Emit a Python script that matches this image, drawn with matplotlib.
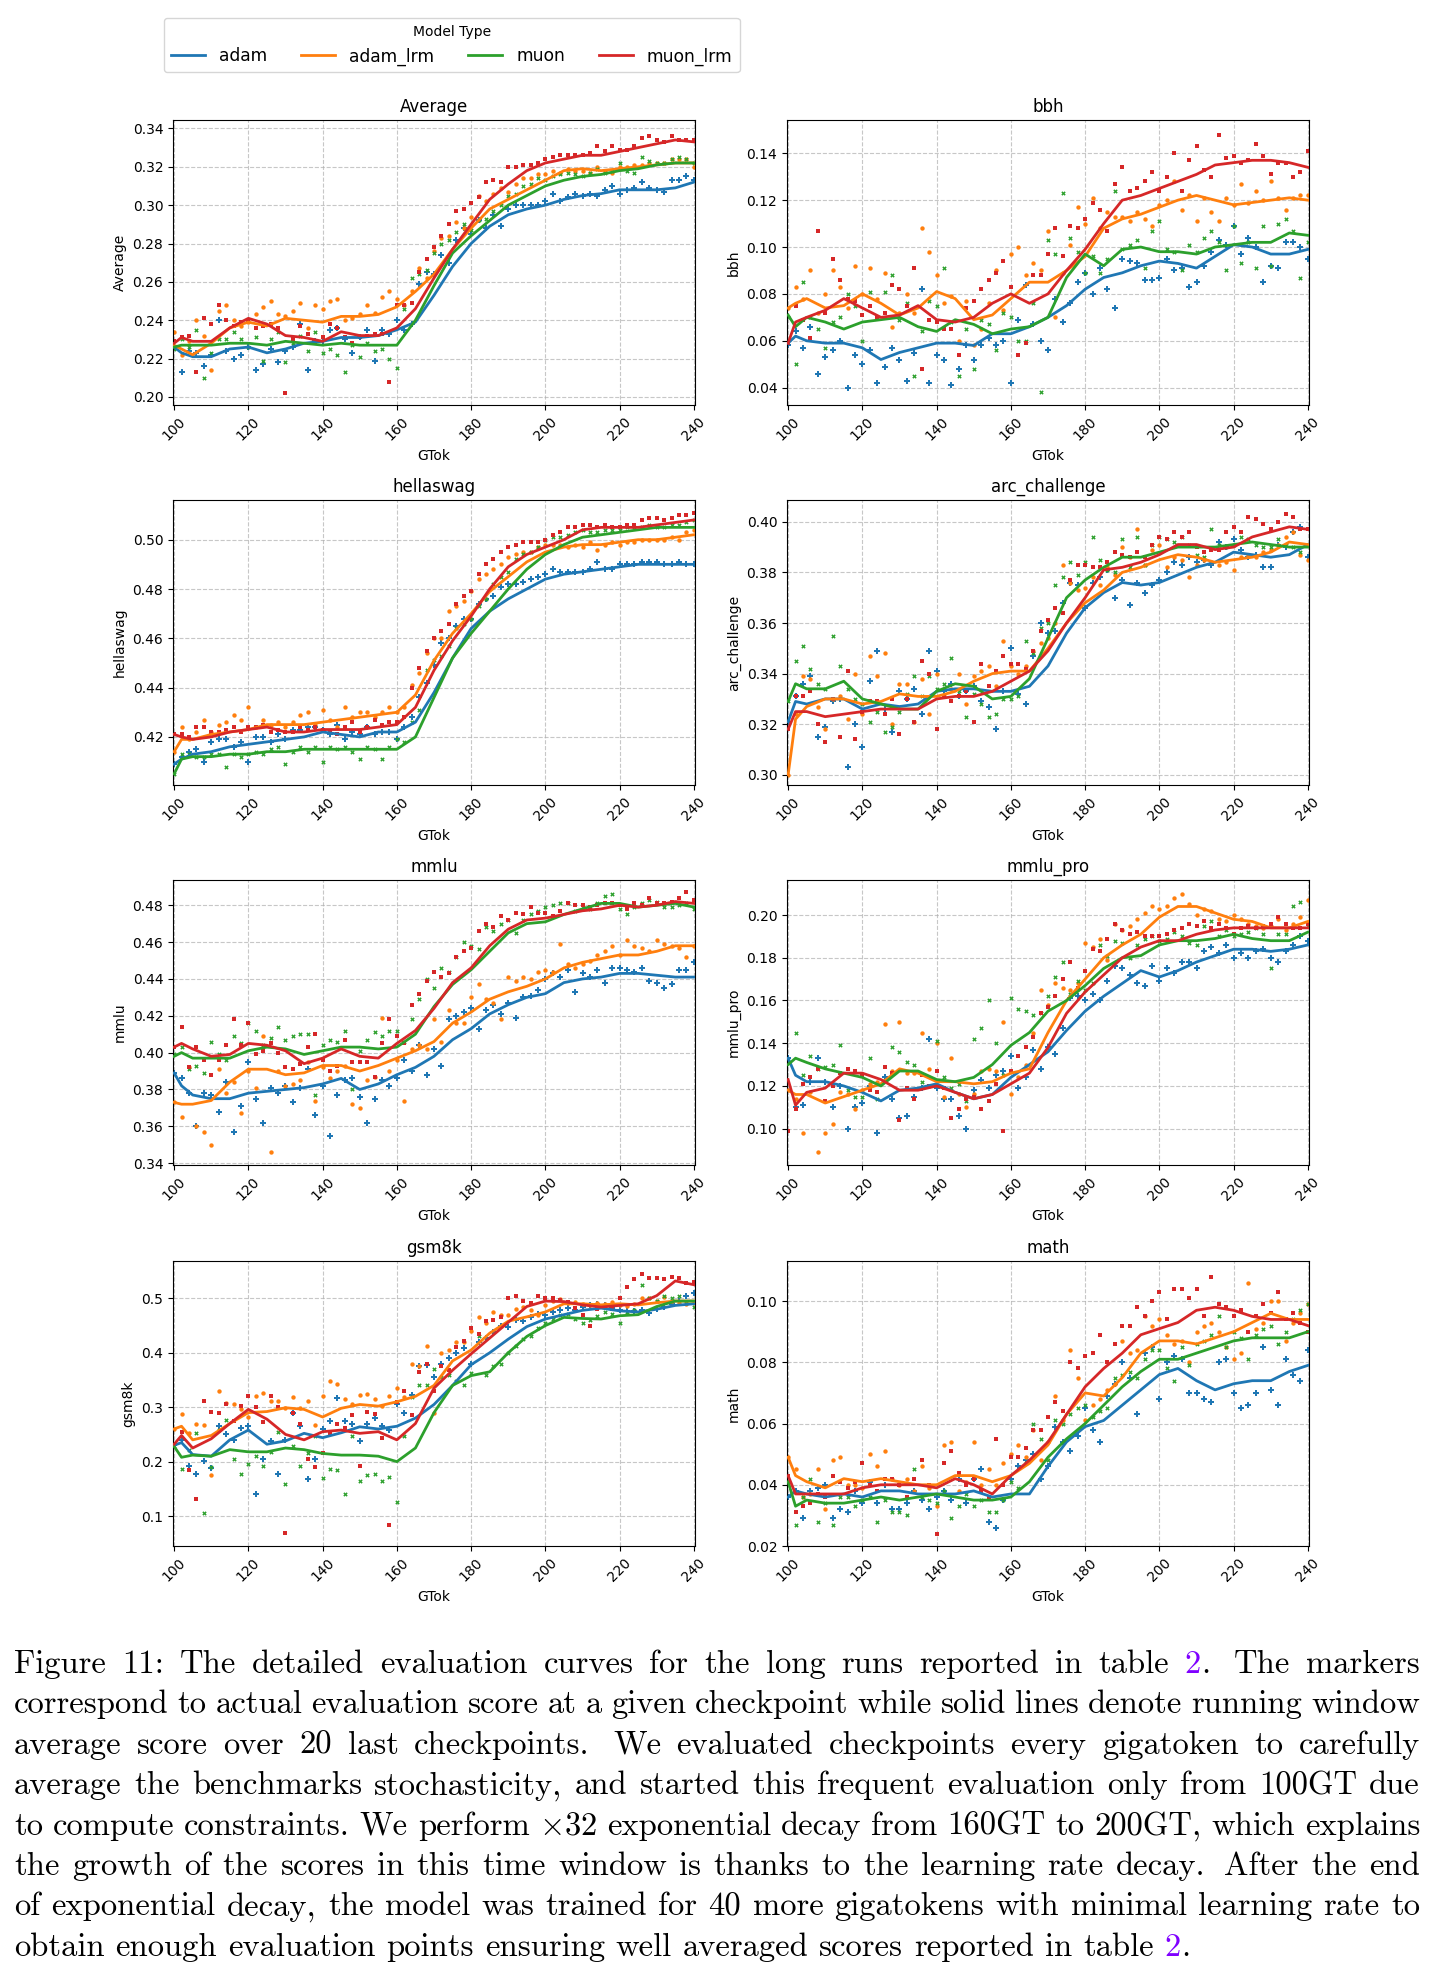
import matplotlib
matplotlib.use("Agg")
import matplotlib.pyplot as plt

plt.rcParams["mathtext.fontset"] = "cm"

# ---------------- data ----------------
series = ["adam", "adam_lrm", "muon", "muon_lrm"]
colors = ["#1f77b4", "#ff7f0e", "#2ca02c", "#d62728"]
markers = ["P", "o", "X", "s"]
marker_sizes = [13, 10, 10, 7]
benchmarks = ["Average", "bbh", "hellaswag", "arc_challenge", "mmlu", "mmlu_pro", "gsm8k", "math"]

line_x = [100, 102] + list(range(105, 241, 5))     # running-average curve sample points (GTok)
point_x = list(range(100, 241, 2))                  # checkpoint markers (GTok)
x_ticks = list(range(100, 241, 20))

average_lines = {
    "adam":     [0.226,0.223,0.221,0.221,0.225,0.226,0.223,0.225,0.228,0.229,0.231,0.231,0.232,0.235,0.239,0.253,0.268,0.280,0.289,0.295,0.298,0.300,0.303,0.305,0.306,0.308,0.308,0.308,0.309,0.312],
    "adam_lrm": [0.227,0.225,0.222,0.228,0.236,0.239,0.237,0.241,0.240,0.239,0.242,0.242,0.243,0.247,0.255,0.264,0.277,0.288,0.298,0.303,0.308,0.313,0.318,0.319,0.318,0.319,0.320,0.321,0.322,0.322],
    "muon":     [0.226,0.227,0.227,0.227,0.228,0.228,0.227,0.229,0.228,0.227,0.228,0.227,0.227,0.227,0.240,0.258,0.275,0.284,0.292,0.300,0.305,0.310,0.313,0.315,0.316,0.318,0.319,0.321,0.322,0.322],
    "muon_lrm": [0.228,0.231,0.229,0.229,0.236,0.241,0.238,0.232,0.231,0.229,0.234,0.232,0.232,0.236,0.246,0.262,0.277,0.290,0.303,0.311,0.318,0.322,0.324,0.326,0.326,0.328,0.330,0.332,0.334,0.333],
}
average_points = {
    "adam": [0.226,0.213,0.224,0.223,0.216, 0.222,0.240,0.224,0.220,0.222, 0.226,0.214,0.217,0.225,0.218, 0.224,0.226,0.238,0.214,0.229,
             0.229,0.235,0.236,0.230,0.223, 0.231,0.235,0.219,0.235,0.233, 0.240,0.235,0.238,0.259,0.265, 0.264,0.274,0.270,0.282,0.288,
             0.285,0.292,0.288,0.295,0.289, 0.298,0.300,0.300,0.300,0.300, 0.302,0.306,0.302,0.304,0.306, 0.305,0.306,0.305,0.308,0.310,
             0.306,0.308,0.309,0.312,0.309, 0.308,0.307,0.313,0.313,0.315, 0.313],
    "adam_lrm": [0.234,0.222,0.229,0.240,0.232, 0.214,0.245,0.248,0.240,0.237, 0.239,0.243,0.247,0.250,0.243, 0.242,0.245,0.249,0.236,0.248,
                 0.246,0.250,0.251,0.240,0.241, 0.243,0.248,0.244,0.252,0.255, 0.251,0.248,0.255,0.267,0.262, 0.276,0.283,0.284,0.291,0.288,
                 0.294,0.305,0.302,0.306,0.309, 0.307,0.311,0.314,0.314,0.316, 0.316,0.318,0.317,0.319,0.318, 0.318,0.317,0.320,0.318,0.317,
                 0.320,0.320,0.321,0.321,0.322, 0.322,0.322,0.324,0.324,0.324, 0.320],
    "muon": [0.225,0.230,0.226,0.235,0.210, 0.223,0.230,0.230,0.234,0.230, 0.226,0.231,0.219,0.230,0.234, 0.218,0.228,0.232,0.224,0.234,
             0.223,0.225,0.222,0.213,0.227, 0.221,0.228,0.224,0.225,0.220, 0.215,0.246,0.262,0.264,0.266, 0.275,0.280,0.282,0.286,0.290,
             0.287,0.292,0.293,0.297,0.300, 0.305,0.306,0.310,0.311,0.314, 0.313,0.315,0.316,0.317,0.316, 0.315,0.317,0.319,0.317,0.318,
             0.322,0.318,0.317,0.325,0.323, 0.322,0.322,0.324,0.325,0.324, 0.322],
    "muon_lrm": [0.229,0.231,0.232,0.213,0.241, 0.238,0.248,0.240,0.237,0.239, 0.240,0.236,0.237,0.238,0.236, 0.202,0.230,0.237,0.233,0.228,
                 0.231,0.238,0.236,0.231,0.228, 0.231,0.232,0.233,0.233,0.208, 0.248,0.248,0.249,0.265,0.272, 0.278,0.284,0.290,0.297,0.298,
                 0.301,0.304,0.312,0.313,0.312, 0.320,0.320,0.321,0.321,0.322, 0.324,0.325,0.326,0.326,0.326, 0.326,0.327,0.331,0.328,0.331,
                 0.329,0.329,0.331,0.335,0.336, 0.334,0.333,0.336,0.334,0.334, 0.334],
}

bbh_lines = {
    "adam":     [0.059,0.062,0.060,0.059,0.059,0.057,0.052,0.055,0.057,0.059,0.059,0.058,0.063,0.063,0.066,0.070,0.075,0.082,0.087,0.089,0.092,0.094,0.093,0.091,0.096,0.101,0.100,0.097,0.097,0.099],
    "adam_lrm": [0.074,0.076,0.078,0.074,0.075,0.080,0.076,0.071,0.074,0.081,0.078,0.069,0.071,0.078,0.085,0.085,0.090,0.096,0.108,0.112,0.114,0.117,0.120,0.122,0.120,0.118,0.119,0.120,0.121,0.120],
    "muon":     [0.071,0.066,0.070,0.068,0.065,0.068,0.069,0.070,0.066,0.064,0.069,0.067,0.063,0.065,0.066,0.070,0.087,0.097,0.092,0.099,0.100,0.098,0.098,0.097,0.100,0.101,0.102,0.102,0.106,0.105],
    "muon_lrm": [0.059,0.068,0.070,0.073,0.078,0.074,0.070,0.071,0.075,0.069,0.068,0.070,0.076,0.080,0.076,0.080,0.090,0.099,0.110,0.120,0.122,0.125,0.128,0.131,0.135,0.136,0.137,0.137,0.136,0.134],
}
bbh_points = {
    "adam": [0.058,0.064,0.057,0.066,0.046, 0.053,0.056,0.060,0.040,0.054, 0.050,0.056,0.042,0.049,0.057, 0.052,0.043,0.055,0.082,0.042,
             0.054,0.052,0.041,0.048,0.058, 0.052,0.058,0.061,0.058,0.060, 0.042,0.069,0.084,0.067,0.060, 0.056,0.078,0.068,0.076,0.085,
             0.089,0.080,0.091,0.082,0.074, 0.095,0.094,0.093,0.086,0.086, 0.087,0.095,0.090,0.091,0.083, 0.085,0.092,0.098,0.103,0.101,
             0.109,0.097,0.104,0.100,0.085, 0.092,0.091,0.102,0.102,0.100, 0.095],
    "adam_lrm": [0.074,0.083,0.078,0.090,0.072, 0.080,0.090,0.083,0.074,0.092, 0.080,0.091,0.078,0.089,0.066, 0.072,0.080,0.072,0.108,0.098,
                 0.088,0.076,0.079,0.060,0.077, 0.058,0.065,0.076,0.090,0.073, 0.097,0.100,0.088,0.093,0.090, 0.107,0.070,0.089,0.101,0.117,
                 0.110,0.121,0.108,0.115,0.113, 0.113,0.111,0.115,0.112,0.109, 0.118,0.120,0.128,0.116,0.122, 0.111,0.121,0.115,0.111,0.121,
                 0.118,0.127,0.119,0.124,0.120, 0.128,0.121,0.116,0.121,0.122, 0.122],
    "muon": [0.070,0.050,0.085,0.070,0.065, 0.057,0.068,0.070,0.080,0.075, 0.060,0.081,0.070,0.081,0.088, 0.069,0.076,0.045,0.064,0.077,
             0.075,0.091,0.068,0.045,0.065, 0.048,0.069,0.067,0.056,0.072, 0.070,0.060,0.060,0.076,0.038, 0.103,0.097,0.123,0.104,0.098,
             0.089,0.096,0.089,0.095,0.124, 0.099,0.101,0.103,0.091,0.107, 0.111,0.099,0.098,0.090,0.101, 0.098,0.104,0.107,0.102,0.090,
             0.109,0.093,0.102,0.091,0.109, 0.092,0.110,0.112,0.107,0.087, 0.102],
    "muon_lrm": [0.059,0.075,0.069,0.061,0.107, 0.072,0.095,0.086,0.078,0.077, 0.071,0.075,0.070,0.072,0.084, 0.082,0.075,0.091,0.048,0.069,
                 0.068,0.065,0.065,0.054,0.074, 0.077,0.082,0.086,0.089,0.094, 0.083,0.054,0.059,0.088,0.088, 0.097,0.108,0.096,0.109,0.108,
                 0.112,0.119,0.116,0.107,0.127, 0.134,0.124,0.125,0.128,0.132, 0.124,0.130,0.140,0.124,0.137, 0.143,0.133,0.130,0.148,0.138,
                 0.139,0.136,0.137,0.144,0.139, 0.131,0.136,0.136,0.130,0.132, 0.141],
}

hellaswag_lines = {
    "adam":     [0.409,0.411,0.413,0.414,0.416,0.417,0.418,0.419,0.420,0.422,0.421,0.420,0.422,0.422,0.426,0.438,0.452,0.464,0.471,0.476,0.480,0.484,0.486,0.487,0.488,0.489,0.490,0.490,0.490,0.490],
    "adam_lrm": [0.414,0.419,0.419,0.421,0.422,0.423,0.425,0.425,0.425,0.426,0.427,0.428,0.429,0.430,0.437,0.451,0.462,0.470,0.479,0.485,0.491,0.495,0.497,0.498,0.498,0.499,0.500,0.500,0.501,0.502],
    "muon":     [0.405,0.411,0.412,0.412,0.413,0.413,0.414,0.414,0.415,0.415,0.415,0.415,0.415,0.415,0.420,0.436,0.452,0.462,0.471,0.480,0.488,0.494,0.498,0.501,0.502,0.503,0.504,0.505,0.505,0.505],
    "muon_lrm": [0.421,0.420,0.419,0.420,0.422,0.423,0.424,0.422,0.422,0.423,0.423,0.423,0.424,0.425,0.432,0.447,0.459,0.469,0.480,0.489,0.494,0.497,0.500,0.504,0.505,0.505,0.505,0.506,0.507,0.508],
}
hellaswag_points = {
    "adam": [0.409,0.412,0.414,0.415,0.410, 0.418,0.419,0.419,0.416,0.418, 0.410,0.420,0.420,0.418,0.421, 0.419,0.423,0.423,0.424,0.424,
             0.423,0.421,0.425,0.419,0.422, 0.421,0.424,0.421,0.422,0.422, 0.419,0.424,0.428,0.436,0.442, 0.449,0.458,0.460,0.465,0.468,
             0.468,0.474,0.476,0.477,0.481, 0.482,0.482,0.483,0.484,0.485, 0.486,0.488,0.487,0.487,0.487, 0.487,0.488,0.491,0.488,0.488,
             0.490,0.490,0.490,0.491,0.491, 0.491,0.490,0.490,0.491,0.490, 0.490],
    "adam_lrm": [0.414,0.424,0.419,0.422,0.427, 0.422,0.425,0.426,0.429,0.427, 0.432,0.424,0.427,0.425,0.426, 0.424,0.426,0.429,0.430,0.425,
                 0.431,0.427,0.424,0.432,0.428, 0.430,0.430,0.428,0.430,0.432, 0.430,0.432,0.441,0.446,0.454, 0.460,0.460,0.471,0.473,0.475,
                 0.479,0.484,0.486,0.488,0.490, 0.493,0.494,0.495,0.495,0.497, 0.498,0.498,0.498,0.497,0.498, 0.497,0.499,0.496,0.498,0.499,
                 0.498,0.499,0.499,0.500,0.500, 0.500,0.500,0.501,0.500,0.503, 0.504],
    "muon": [0.405,0.413,0.413,0.412,0.412, 0.413,0.413,0.408,0.413,0.412, 0.413,0.414,0.413,0.415,0.416, 0.409,0.414,0.416,0.414,0.416,
             0.410,0.416,0.415,0.416,0.414, 0.411,0.416,0.415,0.411,0.416, 0.419,0.418,0.426,0.431,0.447, 0.451,0.453,0.457,0.464,0.466,
             0.468,0.473,0.476,0.482,0.485, 0.487,0.492,0.494,0.495,0.497, 0.500,0.501,0.501,0.502,0.503, 0.504,0.503,0.503,0.504,0.504,
             0.504,0.505,0.505,0.505,0.506, 0.505,0.505,0.506,0.506,0.507, 0.508],
    "muon_lrm": [0.421,0.421,0.420,0.424,0.424, 0.422,0.422,0.423,0.424,0.422, 0.424,0.424,0.425,0.422,0.423, 0.422,0.422,0.424,0.423,0.424,
                 0.423,0.422,0.421,0.424,0.426, 0.422,0.424,0.427,0.425,0.426, 0.426,0.428,0.440,0.448,0.455, 0.460,0.463,0.466,0.474,0.477,
                 0.479,0.486,0.490,0.492,0.495, 0.497,0.498,0.499,0.499,0.499, 0.500,0.502,0.503,0.505,0.505, 0.506,0.506,0.505,0.506,0.505,
                 0.505,0.506,0.506,0.508,0.509, 0.509,0.508,0.509,0.510,0.510, 0.511],
}

arc_lines = {
    "adam":     [0.321,0.329,0.328,0.330,0.330,0.326,0.328,0.327,0.328,0.333,0.334,0.334,0.333,0.333,0.335,0.343,0.356,0.366,0.372,0.376,0.375,0.376,0.379,0.382,0.384,0.388,0.387,0.386,0.387,0.391],
    "adam_lrm": [0.300,0.322,0.327,0.330,0.330,0.328,0.329,0.332,0.331,0.331,0.333,0.337,0.340,0.341,0.341,0.350,0.360,0.368,0.373,0.380,0.382,0.385,0.387,0.386,0.384,0.385,0.386,0.388,0.392,0.391],
    "muon":     [0.329,0.336,0.334,0.334,0.337,0.330,0.328,0.326,0.326,0.333,0.336,0.335,0.330,0.331,0.338,0.354,0.370,0.377,0.382,0.386,0.386,0.388,0.390,0.390,0.390,0.391,0.392,0.391,0.390,0.390],
    "muon_lrm": [0.318,0.325,0.325,0.323,0.324,0.325,0.326,0.326,0.326,0.330,0.331,0.331,0.333,0.337,0.341,0.349,0.360,0.370,0.381,0.382,0.384,0.387,0.391,0.391,0.389,0.390,0.394,0.396,0.398,0.397],
}
arc_points = {
    "adam": [0.321,0.331,0.336,0.339,0.315, 0.319,0.329,0.330,0.303,0.320, 0.311,0.337,0.349,0.326,0.317, 0.333,0.330,0.334,0.324,0.349,
             0.341,0.333,0.336,0.331,0.333, 0.335,0.329,0.327,0.318,0.333, 0.350,0.332,0.328,0.347,0.360, 0.356,0.357,0.368,0.376,0.375,
             0.366,0.376,0.378,0.381,0.370, 0.377,0.367,0.376,0.372,0.375, 0.377,0.380,0.384,0.383,0.386, 0.384,0.385,0.383,0.392,0.390,
             0.393,0.389,0.386,0.387,0.382, 0.382,0.391,0.390,0.396,0.398, 0.386],
    "adam_lrm": [0.300,0.324,0.339,0.338,0.327, 0.318,0.330,0.331,0.322,0.340, 0.324,0.347,0.339,0.348,0.320, 0.336,0.336,0.321,0.338,0.324,
                 0.340,0.331,0.334,0.340,0.328, 0.339,0.341,0.343,0.335,0.353, 0.343,0.340,0.343,0.349,0.352, 0.354,0.360,0.383,0.376,0.373,
                 0.374,0.378,0.375,0.382,0.379, 0.390,0.386,0.397,0.383,0.389, 0.391,0.382,0.386,0.385,0.378, 0.383,0.385,0.384,0.383,0.384,
                 0.381,0.386,0.387,0.386,0.388, 0.389,0.391,0.394,0.396,0.387, 0.385],
    "muon": [0.329,0.345,0.351,0.342,0.336, 0.334,0.355,0.343,0.334,0.330, 0.328,0.321,0.325,0.317,0.319, 0.325,0.332,0.339,0.331,0.339,
             0.334,0.336,0.346,0.333,0.323, 0.332,0.328,0.323,0.324,0.330, 0.330,0.331,0.353,0.348,0.358, 0.360,0.375,0.378,0.384,0.379,
             0.384,0.394,0.385,0.381,0.380, 0.393,0.382,0.394,0.383,0.391, 0.394,0.393,0.392,0.394,0.391, 0.387,0.386,0.397,0.391,0.390,
             0.391,0.394,0.393,0.391,0.390, 0.390,0.393,0.391,0.390,0.388, 0.391],
    "muon_lrm": [0.318,0.331,0.331,0.333,0.320, 0.313,0.330,0.315,0.341,0.314, 0.325,0.329,0.329,0.324,0.330, 0.316,0.330,0.321,0.345,0.340,
                 0.318,0.331,0.329,0.331,0.333, 0.321,0.344,0.335,0.341,0.347, 0.344,0.344,0.342,0.349,0.357, 0.361,0.366,0.364,0.377,0.383,
                 0.383,0.382,0.382,0.384,0.388, 0.387,0.386,0.388,0.386,0.391, 0.394,0.393,0.396,0.394,0.396, 0.390,0.388,0.389,0.389,0.396,
                 0.398,0.396,0.402,0.401,0.399, 0.397,0.400,0.403,0.402,0.397, 0.397],
}

mmlu_lines = {
    "adam":     [0.389,0.382,0.377,0.375,0.375,0.378,0.379,0.380,0.381,0.383,0.386,0.380,0.383,0.388,0.392,0.398,0.407,0.413,0.421,0.426,0.430,0.432,0.438,0.440,0.441,0.443,0.443,0.442,0.441,0.441],
    "adam_lrm": [0.373,0.372,0.372,0.374,0.384,0.391,0.391,0.388,0.389,0.393,0.393,0.390,0.393,0.397,0.401,0.406,0.416,0.422,0.429,0.433,0.436,0.440,0.446,0.449,0.451,0.453,0.453,0.455,0.458,0.458],
    "muon":     [0.398,0.400,0.397,0.397,0.397,0.401,0.403,0.402,0.399,0.401,0.403,0.403,0.402,0.403,0.410,0.425,0.437,0.445,0.455,0.465,0.470,0.471,0.475,0.478,0.481,0.481,0.479,0.480,0.481,0.479],
    "muon_lrm": [0.403,0.405,0.402,0.398,0.399,0.405,0.404,0.401,0.394,0.397,0.402,0.398,0.397,0.405,0.412,0.424,0.438,0.446,0.458,0.467,0.472,0.473,0.475,0.477,0.478,0.480,0.479,0.480,0.482,0.481],
}
mmlu_points = {
    "adam": [0.389,0.386,0.378,0.360,0.378, 0.377,0.368,0.384,0.357,0.371, 0.395,0.375,0.362,0.381,0.378, 0.382,0.373,0.381,0.391,0.366,
             0.382,0.355,0.377,0.385,0.386, 0.376,0.362,0.375,0.385,0.382, 0.386,0.396,0.390,0.404,0.388, 0.402,0.393,0.418,0.420,0.422,
             0.424,0.413,0.423,0.426,0.421, 0.427,0.419,0.430,0.431,0.434, 0.440,0.443,0.441,0.445,0.433, 0.443,0.441,0.445,0.438,0.446,
             0.446,0.445,0.444,0.446,0.439, 0.438,0.435,0.437,0.445,0.445, 0.449],
    "adam_lrm": [0.373,0.365,0.392,0.360,0.357, 0.350,0.391,0.378,0.384,0.367, 0.390,0.381,0.409,0.346,0.390, 0.382,0.383,0.385,0.395,0.374,
                 0.392,0.386,0.390,0.393,0.372, 0.370,0.385,0.387,0.419,0.390, 0.396,0.374,0.402,0.404,0.402, 0.418,0.406,0.423,0.416,0.416,
                 0.430,0.437,0.429,0.427,0.418, 0.441,0.439,0.441,0.440,0.444, 0.445,0.444,0.459,0.448,0.446, 0.448,0.450,0.453,0.455,0.458,
                 0.453,0.461,0.458,0.457,0.455, 0.461,0.459,0.458,0.457,0.452, 0.458],
    "muon": [0.399,0.403,0.391,0.393,0.389, 0.406,0.399,0.396,0.409,0.405, 0.416,0.412,0.404,0.408,0.414, 0.407,0.409,0.410,0.410,0.377,
             0.404,0.407,0.406,0.412,0.380, 0.401,0.407,0.411,0.409,0.412, 0.412,0.406,0.418,0.429,0.440, 0.435,0.446,0.444,0.452,0.460,
             0.458,0.456,0.468,0.466,0.470, 0.472,0.465,0.472,0.475,0.477, 0.479,0.480,0.481,0.481,0.477, 0.479,0.478,0.481,0.485,0.486,
             0.478,0.475,0.479,0.481,0.483, 0.482,0.479,0.479,0.480,0.481, 0.478],
    "muon_lrm": [0.403,0.414,0.392,0.403,0.396, 0.388,0.396,0.404,0.418,0.404, 0.416,0.399,0.401,0.405,0.400, 0.392,0.391,0.394,0.403,0.410,
                 0.396,0.390,0.393,0.407,0.395, 0.395,0.395,0.387,0.405,0.418, 0.409,0.405,0.426,0.432,0.439, 0.444,0.441,0.443,0.452,0.455,
                 0.457,0.466,0.470,0.468,0.474, 0.472,0.476,0.475,0.479,0.476, 0.476,0.474,0.477,0.481,0.480, 0.480,0.479,0.480,0.481,0.481,
                 0.480,0.478,0.481,0.480,0.484, 0.481,0.481,0.482,0.484,0.487, 0.483],
}

mmlu_pro_lines = {
    "adam":     [0.133,0.125,0.122,0.122,0.120,0.117,0.113,0.118,0.119,0.121,0.117,0.114,0.116,0.124,0.130,0.136,0.146,0.155,0.162,0.168,0.174,0.171,0.174,0.178,0.181,0.184,0.184,0.183,0.184,0.186],
    "adam_lrm": [0.118,0.116,0.116,0.112,0.115,0.118,0.121,0.128,0.126,0.122,0.122,0.121,0.122,0.126,0.128,0.145,0.160,0.170,0.180,0.186,0.191,0.199,0.204,0.204,0.201,0.198,0.197,0.194,0.194,0.197],
    "muon":     [0.130,0.133,0.131,0.128,0.126,0.124,0.120,0.127,0.127,0.123,0.122,0.124,0.130,0.139,0.145,0.155,0.160,0.167,0.175,0.180,0.181,0.186,0.188,0.188,0.189,0.191,0.189,0.188,0.188,0.192],
    "muon_lrm": [0.123,0.111,0.117,0.119,0.126,0.126,0.123,0.118,0.118,0.120,0.117,0.114,0.116,0.121,0.126,0.138,0.154,0.164,0.172,0.180,0.185,0.188,0.188,0.191,0.193,0.194,0.194,0.194,0.194,0.194],
}
mmlu_pro_points = {
    "adam": [0.133,0.110,0.111,0.122,0.133, 0.122,0.110,0.120,0.100,0.110, 0.112,0.120,0.098,0.124,0.114, 0.105,0.106,0.115,0.119,0.142,
             0.119,0.114,0.114,0.106,0.100, 0.118,0.123,0.119,0.125,0.127, 0.134,0.119,0.124,0.137,0.128, 0.138,0.135,0.147,0.161,0.162,
             0.160,0.163,0.160,0.169,0.176, 0.175,0.172,0.168,0.167,0.176, 0.169,0.175,0.173,0.178,0.178, 0.175,0.183,0.185,0.182,0.186,
             0.180,0.182,0.180,0.183,0.184, 0.180,0.178,0.183,0.186,0.190, 0.188],
    "adam_lrm": [0.118,0.114,0.098,0.117,0.089, 0.098,0.102,0.117,0.116,0.109, 0.118,0.121,0.122,0.149,0.127, 0.150,0.126,0.126,0.145,0.128,
                 0.140,0.115,0.133,0.116,0.110, 0.116,0.127,0.128,0.127,0.150, 0.116,0.124,0.130,0.145,0.165, 0.158,0.168,0.166,0.165,0.168,
                 0.187,0.185,0.189,0.179,0.196, 0.193,0.195,0.198,0.201,0.204, 0.203,0.204,0.208,0.210,0.205, 0.200,0.203,0.202,0.198,0.197,
                 0.200,0.198,0.196,0.195,0.194, 0.195,0.198,0.193,0.196,0.199, 0.207],
    "muon": [0.131,0.145,0.125,0.134,0.128, 0.129,0.130,0.139,0.118,0.115, 0.115,0.133,0.114,0.123,0.138, 0.136,0.131,0.130,0.122,0.120,
             0.141,0.124,0.119,0.121,0.113, 0.142,0.147,0.160,0.140,0.125, 0.161,0.156,0.155,0.153,0.154, 0.162,0.171,0.178,0.163,0.169,
             0.165,0.168,0.186,0.181,0.188, 0.187,0.180,0.186,0.189,0.190, 0.188,0.189,0.192,0.190,0.187, 0.186,0.195,0.197,0.190,0.193,
             0.190,0.191,0.192,0.194,0.191, 0.175,0.191,0.191,0.204,0.206, 0.195],
    "muon_lrm": [0.099,0.109,0.121,0.124,0.128, 0.113,0.120,0.126,0.128,0.127, 0.125,0.118,0.117,0.129,0.126, 0.104,0.119,0.114,0.125,0.120,
                 0.127,0.119,0.105,0.109,0.114, 0.115,0.109,0.113,0.121,0.099, 0.127,0.134,0.138,0.143,0.154, 0.157,0.162,0.170,0.178,0.166,
                 0.174,0.184,0.183,0.189,0.196, 0.193,0.191,0.192,0.190,0.190, 0.190,0.191,0.193,0.194,0.196, 0.195,0.197,0.194,0.196,0.194,
                 0.191,0.194,0.195,0.194,0.195, 0.196,0.199,0.196,0.194,0.194, 0.196],
}

gsm8k_lines = {
    "adam":     [0.230,0.235,0.213,0.210,0.240,0.258,0.232,0.238,0.252,0.244,0.253,0.264,0.260,0.265,0.280,0.305,0.340,0.378,0.400,0.425,0.448,0.462,0.470,0.478,0.482,0.477,0.475,0.480,0.487,0.490],
    "adam_lrm": [0.260,0.265,0.240,0.248,0.270,0.290,0.292,0.299,0.296,0.282,0.298,0.305,0.302,0.310,0.320,0.340,0.385,0.405,0.436,0.458,0.466,0.475,0.490,0.490,0.488,0.490,0.488,0.492,0.495,0.495],
    "muon":     [0.228,0.208,0.212,0.210,0.222,0.218,0.218,0.225,0.222,0.215,0.212,0.212,0.210,0.200,0.225,0.290,0.340,0.358,0.365,0.400,0.430,0.450,0.465,0.463,0.462,0.468,0.470,0.485,0.495,0.495],
    "muon_lrm": [0.232,0.248,0.225,0.242,0.270,0.296,0.278,0.250,0.240,0.255,0.258,0.252,0.255,0.240,0.270,0.335,0.368,0.398,0.427,0.456,0.485,0.495,0.494,0.488,0.484,0.487,0.490,0.505,0.532,0.525],
}
gsm8k_points = {
    "adam": [0.230,0.240,0.192,0.178,0.202, 0.188,0.265,0.250,0.240,0.262, 0.265,0.141,0.205,0.238,0.178, 0.240,0.290,0.265,0.168,0.205,
             0.260,0.275,0.316,0.275,0.270, 0.237,0.270,0.280,0.265,0.258, 0.305,0.290,0.322,0.375,0.378, 0.355,0.380,0.390,0.400,0.408,
             0.380,0.420,0.428,0.438,0.450, 0.448,0.460,0.458,0.465,0.472, 0.470,0.475,0.478,0.482,0.478, 0.485,0.487,0.490,0.488,0.482,
             0.478,0.476,0.476,0.478,0.473, 0.480,0.485,0.490,0.495,0.505, 0.510],
    "adam_lrm": [0.260,0.287,0.253,0.270,0.268, 0.176,0.330,0.308,0.306,0.296, 0.282,0.320,0.326,0.312,0.312, 0.298,0.318,0.298,0.312,0.268,
                 0.320,0.348,0.342,0.315,0.305, 0.322,0.325,0.315,0.302,0.320, 0.335,0.318,0.380,0.375,0.413, 0.290,0.400,0.405,0.420,0.420,
                 0.440,0.465,0.455,0.475,0.470, 0.470,0.480,0.485,0.478,0.470, 0.488,0.495,0.498,0.492,0.494, 0.490,0.488,0.492,0.490,0.493,
                 0.488,0.486,0.490,0.500,0.500, 0.495,0.502,0.495,0.492,0.490, 0.492],
    "muon": [0.228,0.186,0.222,0.252,0.106, 0.190,0.258,0.276,0.205,0.178, 0.195,0.210,0.192,0.218,0.255, 0.158,0.228,0.192,0.215,0.248,
             0.170,0.187,0.185,0.140,0.248, 0.165,0.176,0.178,0.165,0.172, 0.125,0.248,0.318,0.340,0.340, 0.370,0.355,0.360,0.348,0.340,
             0.362,0.430,0.360,0.375,0.380, 0.400,0.412,0.425,0.430,0.445, 0.455,0.462,0.470,0.472,0.462, 0.455,0.460,0.468,0.475,0.472,
             0.455,0.475,0.478,0.525,0.500, 0.495,0.505,0.500,0.505,0.492, 0.485],
    "muon_lrm": [0.232,0.255,0.185,0.132,0.312, 0.292,0.290,0.305,0.275,0.302, 0.321,0.300,0.272,0.320,0.300, 0.068,0.290,0.270,0.205,0.190,
                 0.215,0.250,0.270,0.262,0.285, 0.192,0.292,0.287,0.243,0.083, 0.310,0.330,0.285,0.365,0.380, 0.330,0.375,0.368,0.410,0.422,
                 0.445,0.435,0.458,0.460,0.465, 0.500,0.505,0.495,0.492,0.505, 0.500,0.500,0.497,0.494,0.483, 0.470,0.450,0.480,0.485,0.480,
                 0.500,0.520,0.535,0.545,0.538, 0.538,0.535,0.540,0.538,0.528, 0.530],
}

math_lines = {
    "adam":     [0.036,0.038,0.037,0.036,0.037,0.036,0.038,0.038,0.037,0.037,0.037,0.038,0.036,0.037,0.037,0.046,0.054,0.059,0.061,0.066,0.071,0.076,0.078,0.074,0.071,0.073,0.074,0.074,0.077,0.079],
    "adam_lrm": [0.049,0.043,0.041,0.039,0.042,0.041,0.042,0.041,0.040,0.040,0.043,0.043,0.041,0.043,0.047,0.053,0.063,0.070,0.069,0.075,0.083,0.087,0.087,0.086,0.088,0.090,0.093,0.096,0.094,0.094],
    "muon":     [0.041,0.033,0.035,0.034,0.034,0.035,0.036,0.035,0.036,0.037,0.036,0.035,0.035,0.036,0.041,0.049,0.055,0.060,0.066,0.072,0.077,0.081,0.081,0.083,0.085,0.087,0.088,0.088,0.088,0.090],
    "muon_lrm": [0.043,0.037,0.037,0.037,0.037,0.039,0.040,0.040,0.040,0.039,0.042,0.040,0.037,0.043,0.048,0.054,0.063,0.072,0.078,0.083,0.089,0.091,0.093,0.097,0.098,0.097,0.095,0.094,0.094,0.092],
}
math_points = {
    "adam": [0.036,0.038,0.029,0.038,0.039, 0.040,0.029,0.032,0.031,0.038, 0.034,0.041,0.034,0.040,0.032, 0.032,0.034,0.038,0.035,0.032,
             0.036,0.038,0.035,0.042,0.034, 0.042,0.045,0.028,0.026,0.035, 0.042,0.046,0.048,0.050,0.042, 0.046,0.059,0.054,0.051,0.056,
             0.065,0.058,0.054,0.069,0.073, 0.080,0.075,0.063,0.083,0.085, 0.068,0.080,0.082,0.081,0.070, 0.070,0.068,0.067,0.080,0.081,
             0.070,0.065,0.066,0.070,0.085, 0.071,0.066,0.081,0.076,0.074, 0.084],
    "adam_lrm": [0.049,0.045,0.036,0.037,0.045, 0.032,0.048,0.049,0.040,0.040, 0.039,0.050,0.046,0.051,0.042, 0.040,0.042,0.038,0.046,0.039,
                 0.033,0.053,0.054,0.038,0.041, 0.054,0.040,0.045,0.040,0.047, 0.050,0.053,0.049,0.058,0.048, 0.054,0.069,0.061,0.084,0.075,
                 0.061,0.066,0.068,0.071,0.073, 0.087,0.083,0.084,0.095,0.092, 0.094,0.089,0.086,0.087,0.080, 0.090,0.092,0.093,0.090,0.085,
                 0.081,0.083,0.106,0.091,0.093, 0.100,0.100,0.087,0.093,0.096, 0.099],
    "muon": [0.041,0.027,0.036,0.042,0.028, 0.034,0.027,0.036,0.036,0.033, 0.035,0.036,0.028,0.035,0.031, 0.031,0.030,0.045,0.036,0.035,
             0.034,0.038,0.029,0.033,0.037, 0.033,0.035,0.031,0.031,0.035, 0.041,0.039,0.047,0.060,0.055, 0.048,0.061,0.060,0.063,0.065,
             0.066,0.062,0.064,0.065,0.075, 0.076,0.077,0.075,0.081,0.084, 0.084,0.078,0.074,0.085,0.079, 0.086,0.087,0.089,0.095,0.085,
             0.090,0.088,0.081,0.089,0.091, 0.092,0.086,0.090,0.094,0.097, 0.099],
    "muon_lrm": [0.043,0.031,0.033,0.034,0.037, 0.036,0.043,0.041,0.039,0.041, 0.047,0.040,0.038,0.042,0.042, 0.040,0.036,0.042,0.048,0.040,
                 0.024,0.047,0.051,0.044,0.040, 0.042,0.038,0.036,0.055,0.040, 0.049,0.049,0.052,0.058,0.058, 0.062,0.067,0.064,0.080,0.078,
                 0.082,0.083,0.089,0.080,0.086, 0.092,0.092,0.098,0.095,0.100, 0.103,0.094,0.104,0.104,0.101, 0.104,0.095,0.108,0.099,0.098,
                 0.095,0.097,0.090,0.095,0.099, 0.096,0.103,0.094,0.096,0.093, 0.090],
}

y_limits = {
    "Average": (0.1958, 0.3444), "bbh": (0.0326, 0.1542), "hellaswag": (0.4005, 0.5161),
    "arc_challenge": (0.296, 0.4086), "mmlu": (0.339, 0.4937), "mmlu_pro": (0.083, 0.2164),
    "gsm8k": (0.045, 0.5686), "math": (0.020, 0.1131),
}

caption_lines = [
    "Figure 11: The detailed evaluation curves for the long runs reported in table [2].  The markers",
    "correspond to actual evaluation score at a given checkpoint while solid lines denote running window",
    "average score over 20 last checkpoints.  We evaluated checkpoints every gigatoken to carefully",
    "average the benchmarks stochasticity, and started this frequent evaluation only from 100GT due",
    "to compute constraints. We perform $\\times$32 exponential decay from 160GT to 200GT, which explains",
    "the growth of the scores in this time window is thanks to the learning rate decay.  After the end",
    "of exponential decay, the model was trained for 40 more gigatokens with minimal learning rate to",
    "obtain enough evaluation points ensuring well averaged scores reported in table [2].",
]

# ---------------- figure ----------------
lines_by_bench = {"Average": average_lines, "bbh": bbh_lines, "hellaswag": hellaswag_lines,
                  "arc_challenge": arc_lines, "mmlu": mmlu_lines, "mmlu_pro": mmlu_pro_lines,
                  "gsm8k": gsm8k_lines, "math": math_lines}
points_by_bench = {"Average": average_points, "bbh": bbh_points, "hellaswag": hellaswag_points,
                   "arc_challenge": arc_points, "mmlu": mmlu_points, "mmlu_pro": mmlu_pro_points,
                   "gsm8k": gsm8k_points, "math": math_points}

W, H = 1435, 1980
fig = plt.figure(figsize=(W / 100, H / 100), dpi=100)
fig.patch.set_facecolor("white")

col_left = [173, 787]
col_w = 522
row_top = [120, 500, 880, 1261]
row_h = 285

legend_handles = None
for k, bench in enumerate(benchmarks):
    r, c = divmod(k, 2)
    ax = fig.add_axes([col_left[c] / W, 1 - (row_top[r] + row_h) / H, col_w / W, row_h / H])
    handles = []
    for s, col, m, ms in zip(series, colors, markers, marker_sizes):
        vals = points_by_bench[bench][s]
        n = min(len(vals), len(point_x))
        ax.scatter(point_x[:n], vals[:n], marker=m, s=ms, color=col, linewidths=0, zorder=2)
        lv = lines_by_bench[bench][s]
        n2 = min(len(lv), len(line_x))
        h, = ax.plot(line_x[:n2], lv[:n2], color=col, lw=2, zorder=3, label=s)
        handles.append(h)
    if legend_handles is None:
        legend_handles = handles
    ax.set_xlim(99.7, 240.3)
    ax.set_ylim(*y_limits[bench])
    ax.set_xticks(x_ticks)
    ax.tick_params(axis="x", labelrotation=45, labelsize=10)
    ax.tick_params(axis="y", labelsize=10)
    ax.grid(True, linestyle="--", color="#b0b0b0", alpha=0.7, linewidth=0.8)
    ax.set_axisbelow(True)
    ax.set_title(bench, fontsize=12)
    ax.set_xlabel("GTok", fontsize=10)
    ax.set_ylabel(bench, fontsize=10)

fig.legend(legend_handles, series, title="Model Type", ncol=4, loc="upper left",
           bbox_to_anchor=(164 / W, 1 - 18 / H), fontsize=12.3, title_fontsize=10,
           borderaxespad=0, frameon=True, handlelength=2.0)

# ---------------- justified caption ----------------
link_color = "#7f00ff"
cap_size = 23.5
renderer = fig.canvas.get_renderer()
L, R = 14, 1420
space_px = 0.333 * cap_size / 72 * 100
for i, line in enumerate(caption_lines):
    y = 1 - (1673 + i * 40.4) / H
    tokens = line.split(" ")
    words = []
    extra = 0
    for tok in tokens:
        if tok == "":
            extra += 1
            continue
        words.append((tok, 1 + 0.5 * extra))
        extra = 0
    objs = []
    for tok, wgt in words:
        if "[" in tok:
            a, rest = tok.split("[")
            b, cpart = rest.split("]")
            parts = [(a, "black"), (b, link_color), (cpart, "black")]
        else:
            parts = [(tok, "black")]
        texts, widths = [], []
        for s, col in parts:
            if s:
                t = fig.text(0, y, s, color=col, va="baseline", ha="left",
                             family="cmr10", fontsize=cap_size)
                texts.append(t)
                widths.append(t.get_window_extent(renderer).width)
        objs.append((texts, widths, wgt))
    total = sum(sum(w) for _, w, _ in objs)
    wsum = sum(o[2] for o in objs[1:])
    if i < len(caption_lines) - 1:
        unit = (R - L - total) / wsum
    else:
        unit = space_px
    x = L
    for j, (texts, widths, wgt) in enumerate(objs):
        if j > 0:
            x += unit * wgt
        for t, w in zip(texts, widths):
            t.set_x(x / W)
            x += w

fig.savefig("out.png", dpi=100, facecolor="white")
